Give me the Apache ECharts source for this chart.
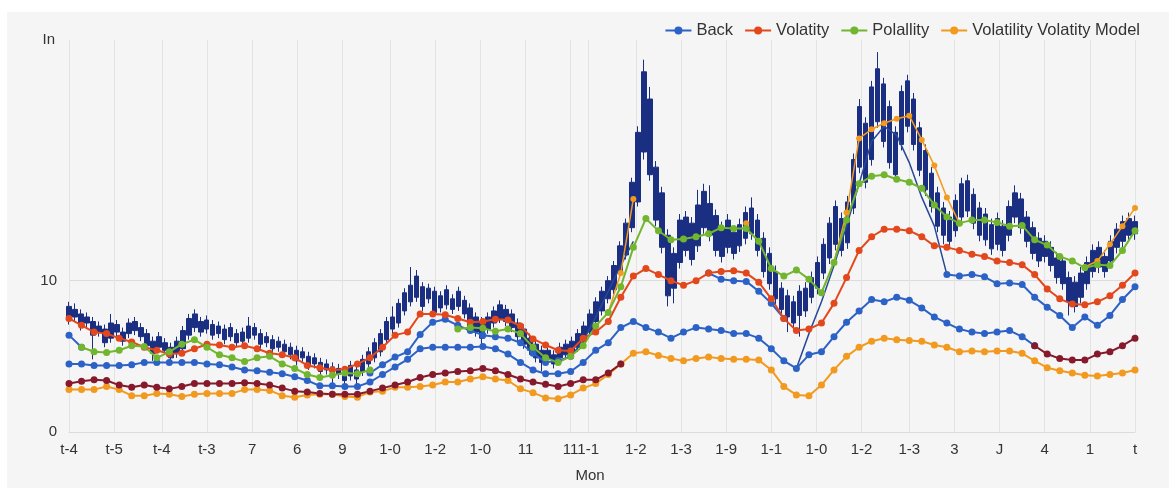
<!DOCTYPE html>
<html><head><meta charset="utf-8">
<script src="https://cdn.jsdelivr.net/npm/echarts/dist/echarts.min.js"></script>
<style>html,body{margin:0;padding:0;background:#fff}#c{width:1169px;height:488px}</style>
</head><body><div id="c"></div>
<script>
// ---- tick labels and the slot each one sits on ----
const xLabels = ['t-4','t-5','t-4','t-3','7','6','9','1-0','1-2','1-0','11','11','1-1','1-2','1-3','1-9','1-1','1-0','1-2','1-3','3','J','4','1','t'];
const xLabelSlot = [0,18,37,55,73,91,109,128,146,164,182,200,207,226,244,262,280,298,316,335,353,371,389,407,425];
const yLabels = [0, 10];
const legendNames = ['Back','Volatity','Polallity','Volatility Volatity Model'];

// ---- candles: [open, close, low, high] ----
const candles = [
[7.4,8.3,7.1,8.6],[7.6,8.1,7.3,8.5],[7.0,7.8,6.7,8.1],[7.2,7.6,6.9,7.9],[6.4,7.3,4.8,7.6],[6.6,7.0,6.3,7.3],[5.9,6.8,5.6,7.1],[6.2,7.2,5.9,7.8],[6.6,7.1,6.3,7.4],[6.0,6.6,5.7,6.9],
[6.5,7.2,6.2,7.5],[6.7,7.3,6.4,7.6],[6.3,6.9,6.0,7.2],[5.7,6.5,5.4,6.8],[5.2,6.0,4.7,6.3],[5.6,6.3,5.3,6.6],[5.4,5.9,5.1,6.2],[4.9,5.6,4.6,5.9],[5.2,6.0,4.9,6.3],[5.5,6.7,5.2,7.0],
[6.4,7.5,6.1,7.8],[6.9,7.8,6.6,8.1],[6.6,7.3,6.3,7.6],[6.8,7.4,6.5,7.7],[6.4,7.1,6.1,7.4],[6.5,7.0,6.2,7.3],[6.1,6.8,5.8,7.1],[6.3,6.9,6.0,7.2],[5.9,6.5,5.6,6.8],[6.0,6.6,5.7,6.9],
[6.2,7.0,5.9,7.6],[6.4,6.9,6.1,7.2],[5.8,6.5,5.5,6.8],[5.9,6.3,5.6,6.6],[5.5,6.1,5.2,6.4],[5.6,6.0,5.3,6.3],[5.3,5.8,5.0,6.1],[5.1,5.6,4.8,5.9],[4.7,5.4,4.4,5.7],[4.9,5.3,4.6,5.6],
[4.4,5.0,4.1,5.3],[4.5,4.9,4.2,5.2],[4.0,4.6,3.7,4.9],[4.1,4.5,3.8,4.8],[3.6,4.3,3.2,4.6],[3.8,4.2,3.5,4.5],[3.4,4.0,3.1,4.3],[3.7,4.4,3.4,4.7],[3.5,4.1,3.1,4.4],[4.0,4.8,3.7,5.1],
[4.5,5.3,4.2,5.6],[4.9,5.9,4.6,6.2],[5.3,6.5,5.0,6.8],[6.1,7.3,5.8,7.6],[6.8,7.6,6.5,8.3],[7.2,8.5,6.9,8.8],[8.0,9.2,7.7,9.5],[8.6,9.7,8.3,10.9],[8.9,10.3,8.6,10.7],[8.3,9.6,8.0,9.9],
[8.8,9.5,8.5,9.8],[7.9,9.3,7.6,9.6],[8.2,9.0,7.9,9.3],[8.4,9.4,8.1,9.7],[8.1,8.8,7.8,9.1],[8.3,9.3,8.0,9.6],[7.8,8.7,7.5,9.0],[7.0,8.2,6.7,8.5],[6.6,7.6,6.3,7.9],[6.2,7.3,5.8,7.6],
[6.8,7.6,6.5,7.9],[7.2,8.0,6.9,8.3],[7.5,8.4,7.2,8.7],[7.3,8.1,7.0,8.4],[6.9,7.8,6.6,8.1],[6.3,7.2,6.0,7.5],[5.8,6.8,5.5,7.1],[5.4,6.2,5.1,6.5],[4.9,5.8,4.6,6.1],[4.6,5.4,4.0,5.7],
[4.8,5.4,4.5,5.7],[4.5,5.1,4.2,5.4],[4.9,5.6,4.6,5.9],[5.1,5.8,4.8,6.1],[5.3,6.0,5.0,6.3],[5.6,6.5,5.3,6.8],[6.0,7.0,5.7,7.3],[6.6,7.8,6.3,8.1],[7.3,8.6,7.0,8.9],[8.0,9.3,7.7,9.6],
[8.8,10.0,8.5,10.3],[9.4,11.0,9.1,11.3],[10.5,12.3,10.2,12.6],[11.7,13.8,11.4,14.1],[13.5,16.5,13.2,16.8],[15.2,19.8,14.9,20.2],[18.5,23.8,18.0,24.6],[17.0,22.0,16.6,22.8],[14.0,17.5,13.6,17.9],[12.2,15.8,11.8,16.2],
[9.0,13.0,8.3,13.4],[9.5,11.8,8.5,12.2],[11.2,14.0,10.8,14.4],[12.0,14.2,11.6,14.6],[11.4,13.8,11.0,14.2],[12.3,15.0,11.9,16.0],[13.5,15.9,13.1,16.4],[13.0,15.1,12.6,16.3],[12.0,14.3,11.6,14.7],[11.6,13.5,11.2,13.9],
[12.2,14.0,11.8,14.4],[11.8,13.2,11.4,13.6],[12.3,13.7,11.9,14.1],[12.8,14.5,12.4,14.9],[13.1,14.8,12.7,15.5],[12.0,14.0,11.6,14.4],[10.6,12.8,10.2,13.2],[9.8,11.8,9.4,12.2],[8.8,10.6,8.4,11.0],[8.1,9.5,7.7,9.9],
[7.6,9.0,6.6,9.4],[7.2,8.6,6.8,9.0],[7.7,9.3,6.3,9.7],[8.0,9.5,7.6,9.9],[8.9,10.2,8.5,10.6],[9.5,11.2,9.1,11.6],[10.5,12.4,10.1,12.8],[11.5,13.8,11.1,14.2],[12.4,14.9,12.0,15.3],[12.0,14.1,11.6,14.5],
[12.5,15.2,12.1,15.6],[14.8,18.0,14.4,18.4],[17.5,21.5,17.1,22.0],[16.5,20.4,16.1,20.8],[18.0,22.8,17.6,23.2],[20.5,24.0,20.1,25.1],[19.2,23.0,18.8,23.4],[17.8,21.5,17.4,21.9],[17.0,19.8,16.6,20.2],[19.0,22.5,18.6,22.9],
[20.2,23.2,19.8,23.6],[19.0,22.0,18.6,22.4],[17.3,20.1,16.9,20.5],[16.0,18.6,15.6,19.0],[14.9,17.1,14.5,17.5],[13.6,15.8,13.2,16.2],[13.0,14.8,12.4,15.2],[12.6,14.2,12.2,14.6],[13.3,15.3,12.9,15.7],[14.2,16.4,13.8,16.8],
[14.6,16.6,14.2,17.0],[13.8,15.7,13.4,16.1],[13.0,14.8,12.6,15.2],[12.7,14.4,12.3,14.8],[12.1,13.7,11.7,14.1],[12.4,14.1,12.0,14.5],[12.0,13.6,11.6,14.0],[13.0,14.9,12.6,15.3],[14.2,15.8,13.8,16.3],[13.5,15.4,13.1,15.8],
[12.6,14.2,12.2,14.6],[11.8,13.5,11.4,13.9],[11.3,12.8,10.9,13.2],[11.6,12.6,11.2,13.0],[11.0,12.2,10.6,12.6],[10.2,11.5,9.8,11.9],[9.8,11.3,9.4,11.7],[8.6,10.2,7.7,10.6],[8.3,9.9,7.9,10.3],[8.9,10.5,8.5,10.9],
[9.8,11.2,9.4,11.6],[10.6,12.0,10.2,12.4],[10.9,12.2,10.5,12.6],[10.6,11.6,10.2,12.0],[11.3,12.6,10.9,13.0],[12.2,13.4,11.8,13.8],[12.6,13.9,12.2,14.3],[13.0,14.1,12.6,14.5],[13.1,13.9,12.7,14.3]
];

// ---- line series, one value per marker step (null = no point) ----
const back = [6.4,5.6,null,null,null,null,null,null,null,null,
null,null,null,null,null,null,null,null,null,null,
null,null,null,null,3.9,4.45,4.95,5.3,6.45,7.25,
7.45,7.05,6.7,6.4,6.3,6.2,5.9,5.2,4.6,4.7,
5.0,null,null,null,null,null,null,null,null,null,
null,10.5,10.1,10.0,9.95,9.3,8.5,7.5,null,null,
null,null,null,null,null,null,null,null,null,null,
10.4,10.3,10.4,10.25,9.8,9.85,9.75,8.9,8.25,7.7,
6.9,7.6,7.05,7.7,8.75,9.6];
const backLow = [4.5,4.5,4.4,4.4,4.4,4.45,4.6,4.6,4.6,4.6,
4.6,4.5,4.45,4.3,4.1,4.05,3.95,3.85,3.65,3.4,
3.05,3.05,3.0,3.0,3.3,3.8,4.3,4.8,5.5,5.6,
5.6,5.6,5.6,5.65,5.5,5.15,4.6,4.1,3.85,3.85,
4.0,4.6,5.4,5.9,6.9,7.3,6.9,6.6,6.2,6.6,
6.9,6.8,6.7,6.5,6.5,6.2,5.5,4.7,4.2,5.1,
5.3,6.3,7.25,8.0,8.75,8.6,8.9,8.7,8.2,7.6,
7.2,6.8,6.6,6.5,6.6,6.7,6.3,5.7,null,null,
null,null,null,null,null,null];
const backThin = [null,null,null,null,null,null,null,null,null,null,
null,null,null,null,null,null,null,null,null,null,
null,null,null,null,null,null,null,null,null,null,
null,null,null,null,null,null,null,null,null,null,
5.0,6.0,7.6,9.3,11.0,12.6,null,null,null,null,
null,null,null,null,null,null,null,null,4.2,6.5,
8.6,11.0,13.6,16.4,19.2,20.2,19.6,17.8,15.5,13.6,
10.4,null,null,null,null,null,null,null,null,null,
null,null,null,null,null,null];
const vol = [7.5,7.05,6.6,6.5,6.2,5.95,5.6,5.4,5.15,5.2,
5.5,5.8,5.75,5.6,5.7,5.5,5.2,5.1,4.9,4.4,
4.25,4.1,4.15,4.5,4.9,5.6,6.4,6.6,7.8,7.8,
7.75,7.5,7.25,7.3,7.45,7.4,7.0,6.15,5.75,5.4,
5.35,6.2,6.6,7.3,8.9,10.3,10.8,10.4,10.0,9.7,
10.0,10.5,10.6,10.65,10.5,9.9,8.8,7.5,6.7,6.8,
7.2,8.5,10.2,12.0,12.9,13.4,13.4,13.3,12.9,12.3,
12.2,12.0,11.75,11.6,11.3,11.2,11.05,10.4,9.45,8.8,
8.45,8.4,8.6,9.0,9.7,10.5];
const volLow = [3.2,3.35,3.45,3.4,3.1,2.95,3.1,2.95,2.85,3.0,
3.2,3.2,3.2,3.2,3.25,3.2,3.1,2.9,2.7,2.65,
2.55,2.5,2.5,2.5,2.7,2.9,3.1,3.3,3.6,3.8,
3.9,4.0,4.05,4.2,4.05,3.8,3.5,3.3,3.15,3.0,
3.2,3.45,3.45,3.9,4.5,null,null,null,null,null,
null,null,null,null,null,null,null,null,null,null,
null,null,null,null,null,null,null,null,null,null,
null,null,null,null,null,null,null,5.7,5.15,4.85,
4.75,4.75,5.15,5.3,5.7,6.2];
const pol = [null,5.6,5.3,5.25,5.4,5.7,5.65,4.9,5.3,5.8,
6.1,5.6,5.1,4.9,4.65,4.9,5.0,4.5,4.2,3.8,
3.6,3.75,3.9,3.85,4.1,null,null,null,null,null,
null,6.8,6.9,6.85,6.65,6.8,6.5,5.6,4.9,4.6,
5.0,5.7,7.0,7.9,9.6,12.2,14.1,13.3,12.7,12.75,
12.9,13.1,13.5,13.45,13.45,12.6,10.8,10.3,10.7,10.1,
9.2,11.2,14.0,16.4,16.9,17.0,16.7,16.5,16.1,15.0,
14.2,13.8,14.0,14.0,13.85,13.6,13.65,12.7,12.35,11.6,
11.3,10.85,11.05,11.0,12.0,13.3];
const model = [2.8,2.8,2.8,3.0,2.8,2.4,2.4,2.55,2.5,2.35,
2.5,2.55,2.55,2.55,2.8,2.8,2.75,2.4,2.3,2.45,
2.5,2.5,2.35,2.3,2.65,2.7,2.95,2.95,3.0,3.1,
3.3,3.3,3.5,3.65,3.5,3.4,2.85,2.6,2.25,2.2,
2.45,2.9,3.2,3.8,4.5,5.2,5.3,5.05,4.85,4.7,
4.85,4.95,4.85,4.8,4.8,4.75,4.1,3.0,2.45,2.4,
3.1,4.1,5.0,5.6,6.0,6.2,6.1,6.05,6.0,5.75,
5.6,5.3,5.35,5.3,5.35,5.35,5.2,4.7,4.25,4.05,
3.9,3.75,3.7,3.8,3.9,4.1];
const modelHigh = [null,null,null,null,null,null,null,null,null,null,
null,null,null,null,null,null,null,null,null,null,
null,null,null,null,null,null,null,null,null,null,
null,null,null,null,null,null,null,null,null,null,
null,null,null,7.9,10.5,15.4,null,null,null,null,
null,null,null,null,13.8,null,null,null,null,null,
null,11.2,14.5,19.4,20.0,20.4,20.7,20.9,19.3,17.6,
15.5,13.8,null,null,null,null,null,null,null,null,
null,10.9,11.3,12.4,13.6,14.8];

// ---- build chart ----
const STEP = 5;
const SLOTS = (back.length - 1) * STEP + 1;
const cats = Array.from({length: SLOTS}, (_, i) => 's' + i);
const candleCats = candles.map((_, i) => 'k' + i);
const labelAt = {};
xLabelSlot.forEach((s, i) => { labelAt[s] = xLabels[i]; });
const pts = arr => arr.map((v, k) => [k * STEP, v == null ? '-' : v]);
const FONT = '"Liberation Sans", Arial, sans-serif';

const C = {
  blue: '#2c62c6', red: '#e2481c', green: '#72b52e', orange: '#f29a1f',
  maroon: '#861a2c', navy: '#1a2f82', thin: '#27489a'
};
const lineBase = (name, data, color, extra) => Object.assign({
  type: 'line', name: name, data: pts(data), xAxisIndex: 0, yAxisIndex: 0,
  symbol: 'circle', symbolSize: 7, showSymbol: true, showAllSymbol: true,
  connectNulls: false, z: 3, animation: false,
  lineStyle: {color: color, width: 2}, itemStyle: {color: color}
}, extra || {});

const chart = echarts.init(document.getElementById('c'), null, {renderer: 'canvas'});
chart.setOption({
  animation: false,
  backgroundColor: '#ffffff',
  textStyle: {fontFamily: FONT},
  graphic: [{type: 'rect', left: 7, top: 12, shape: {width: 1162, height: 476}, style: {fill: '#f5f5f5'}, z: -10, silent: true}],
  legend: {
    data: legendNames, top: 17, right: 24, itemWidth: 26, itemHeight: 10, itemGap: 11,
    textStyle: {fontSize: 16.5, color: '#333', fontFamily: FONT}
  },
  grid: {left: 69, right: 34, top: 40, bottom: 52, containLabel: false},
  xAxis: [{
    type: 'category', data: cats, boundaryGap: false,
    axisLine: {show: true, lineStyle: {color: '#dcdcdc'}},
    axisTick: {show: false},
    axisLabel: {
      interval: (i) => labelAt[i] !== undefined,
      formatter: (v, i) => labelAt[i] || '',
      color: '#333', fontSize: 15, margin: 10, fontFamily: FONT
    },
    splitLine: {show: true, interval: (i) => labelAt[i] !== undefined, lineStyle: {color: '#e3e3e3', width: 1}},
    name: 'Mon', nameLocation: 'middle', nameGap: 36,
    nameTextStyle: {color: '#333', fontSize: 15, fontFamily: FONT, padding: [0, 24, 0, 0]}
  }, {
    type: 'category', data: candleCats, boundaryGap: false, show: false
  }],
  yAxis: [{
    type: 'value', min: 0, max: 25.9, interval: 10,
    axisLine: {show: false}, axisTick: {show: false},
    axisLabel: {formatter: v => (yLabels.indexOf(v) >= 0 ? String(v) : ''), color: '#333', fontSize: 15, margin: 12, fontFamily: FONT},
    splitLine: {show: true, lineStyle: {color: ['#dcdcdc', '#dcdcdc', 'rgba(0,0,0,0)', 'rgba(0,0,0,0)']}},
    name: 'In', nameLocation: 'end', nameGap: 0,
    nameTextStyle: {color: '#333', fontSize: 15, fontFamily: FONT, align: 'right', verticalAlign: 'middle', padding: [0, 14, 0, 0]}
  }],
  series: [
    {type: 'candlestick', name: 'candles', data: candles, xAxisIndex: 1, yAxisIndex: 0, barWidth: 5, z: 2,
     itemStyle: {color: C.navy, color0: C.navy, borderColor: C.navy, borderColor0: C.navy, borderWidth: 1}},
    lineBase('Back', back, C.blue),
    lineBase('Back', backLow, C.blue),
    lineBase('Back', backThin, C.thin, {showSymbol: false, lineStyle: {color: C.thin, width: 1.5}}),
    lineBase('Volatility Volatity Model', model, C.orange),
    lineBase('Volatility Volatity Model', modelHigh, C.orange, {symbolSize: 6, lineStyle: {color: C.orange, width: 1.5}}),
    lineBase('Volatity', vol, C.red),
    lineBase('Volatity', volLow, C.maroon, {itemStyle: {color: C.maroon}}),
    lineBase('Polallity', pol, C.green)
  ]
});
</script>
</body></html>
